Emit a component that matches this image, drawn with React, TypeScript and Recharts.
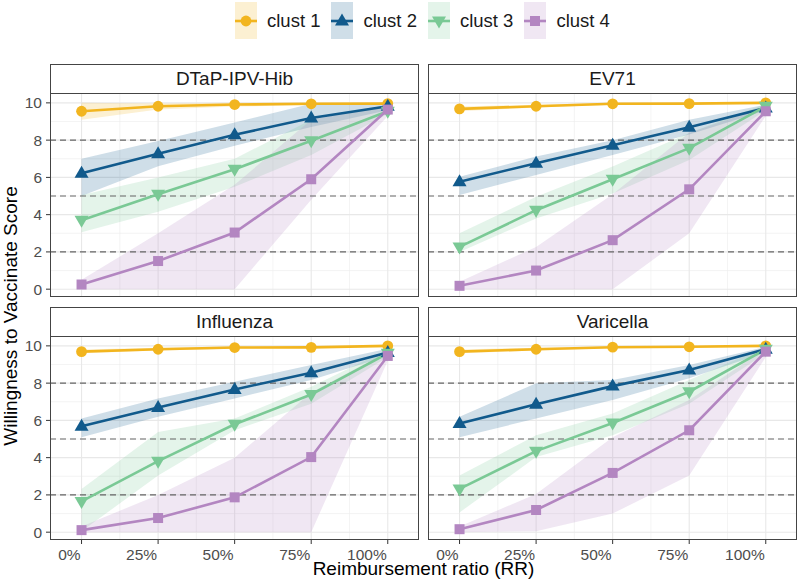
import React from "react";
import { ComposedChart, Area, Line, XAxis, YAxis, CartesianGrid, ReferenceLine } from "recharts";

const rr = [0, 0.25, 0.5, 0.75, 1];
const clusters = ["clust 1", "clust 2", "clust 3", "clust 4"];
const colors = ["#F2B51F", "#115A8C", "#7AC995", "#B386C1"];
const shapes = ["circle", "triangle", "triangleDown", "square"];

const xTicks = [0, 0.25, 0.5, 0.75, 1];
const xMinor = [0.125, 0.375, 0.625, 0.875];
const yTicks = [0, 2, 4, 6, 8, 10];
const yMinor = [1, 3, 5, 7, 9];
const cutoffs = [2, 5, 8];

// one row per cluster, one value per RR level
const dtapMean = [
  [9.55, 9.82, 9.91, 9.95, 9.96],
  [6.22, 7.27, 8.29, 9.19, 9.82],
  [3.7, 5.1, 6.44, 7.97, 9.55],
  [0.25, 1.51, 3.04, 5.9, 9.64],
];
const dtapLow = [
  [9.1, 9.65, 9.8, 9.88, 9.92],
  [5.0, 6.6, 7.7, 8.7, 9.6],
  [3.05, 4.15, 5.5, 7.2, 9.4],
  [0.0, 0.0, 0.0, 4.8, 9.3],
];
const dtapHigh = [
  [10.0, 9.97, 10.0, 10.0, 10.0],
  [7.0, 7.95, 8.95, 9.95, 10.0],
  [5.05, 6.0, 7.0, 9.1, 9.8],
  [0.5, 3.0, 5.6, 9.1, 9.9],
];

const ev71Mean = [
  [9.68, 9.82, 9.95, 9.96, 10.0],
  [5.77, 6.76, 7.72, 8.69, 9.73],
  [2.27, 4.24, 5.9, 7.57, 9.82],
  [0.18, 1.0, 2.63, 5.36, 9.55],
];
const ev71Low = [
  [9.55, 9.75, 9.9, 9.92, 9.97],
  [5.05, 6.13, 7.2, 8.3, 9.6],
  [2.0, 3.8, 5.14, 6.94, 9.6],
  [0.0, 0.0, 0.0, 3.0, 9.3],
];
const ev71High = [
  [9.8, 9.9, 10.0, 10.0, 10.0],
  [6.04, 7.12, 8.0, 9.1, 9.9],
  [3.0, 4.96, 6.58, 8.38, 9.95],
  [0.4, 2.27, 5.1, 8.4, 9.8],
];

const fluMean = [
  [9.69, 9.82, 9.91, 9.92, 10.0],
  [5.68, 6.69, 7.66, 8.56, 9.64],
  [1.65, 3.81, 5.79, 7.39, 9.6],
  [0.11, 0.76, 1.87, 4.03, 9.46],
];
const fluLow = [
  [9.6, 9.75, 9.85, 9.87, 9.97],
  [5.1, 6.19, 7.18, 8.17, 9.45],
  [0.05, 3.04, 5.47, 6.9, 9.4],
  [0.0, 0.0, 0.0, 0.0, 9.2],
];
const fluHigh = [
  [9.8, 9.9, 9.97, 9.98, 10.0],
  [6.1, 7.18, 8.08, 8.97, 9.85],
  [2.32, 5.38, 6.1, 7.8, 9.8],
  [0.3, 2.0, 4.0, 7.5, 9.7],
];

const varMean = [
  [9.69, 9.82, 9.93, 9.95, 10.0],
  [5.83, 6.87, 7.84, 8.71, 9.82],
  [2.32, 4.35, 5.86, 7.54, 9.82],
  [0.16, 1.19, 3.18, 5.47, 9.69],
];
const varLow = [
  [9.6, 9.75, 9.88, 9.9, 9.97],
  [5.1, 6.1, 7.09, 8.26, 9.65],
  [1.06, 4.03, 5.2, 6.9, 9.6],
  [0.0, 0.05, 1.0, 3.04, 9.4],
];
const varHigh = [
  [9.8, 9.9, 9.97, 9.99, 10.0],
  [6.19, 8.0, 8.17, 8.97, 9.95],
  [3.04, 5.2, 6.37, 8.17, 9.95],
  [0.3, 2.05, 5.1, 7.1, 9.85],
];

const FONT = '"Liberation Sans", Arial, sans-serif';
const PW = 369;
const PH = 204;
const STRIP = 29;

function Marker({ shape, cx, cy, color }: { shape: string; cx: number; cy: number; color: string }) {
  if (cx == null || cy == null) return null;
  if (shape === "circle") return <circle cx={cx} cy={cy} r={5.4} fill={color} />;
  if (shape === "square") return <rect x={cx - 5} y={cy - 5} width={10} height={10} fill={color} />;
  if (shape === "triangle")
    return <polygon points={`${cx},${cy - 7.5} ${cx - 7},${cy + 4.5} ${cx + 7},${cy + 4.5}`} fill={color} />;
  return <polygon points={`${cx},${cy + 7.5} ${cx - 7},${cy - 4.5} ${cx + 7},${cy - 4.5}`} fill={color} />;
}

function XTick({ x, y, payload }: any) {
  return (
    <text x={x - 1} y={y + 14} textAnchor="end" fill="#4d4d4d" fontSize={15.5} fontFamily={FONT}>
      {`${Math.round(payload.value * 100)}%`}
    </text>
  );
}

function YTick({ x, y, payload }: any) {
  return (
    <text x={x} y={y} textAnchor="end" dominantBaseline="central" fill="#4d4d4d" fontSize={15.5} fontFamily={FONT}>
      {payload.value}
    </text>
  );
}

type PanelProps = {
  title: string;
  mean: number[][];
  low: number[][];
  high: number[][];
  left: number;
  top: number;
  showX: boolean;
  showY: boolean;
};

function Panel({ title, mean, low, high, left, top, showX, showY }: PanelProps) {
  const data = rr.map((x, i) => {
    const row: any = { rr: x };
    clusters.forEach((_, k) => {
      row[`m${k}`] = mean[k][i];
      row[`r${k}`] = [low[k][i], high[k][i]];
    });
    return row;
  });
  const yW = showY ? 50 : 0;
  const xH = showX ? 40 : 0;

  return (
    <>
      <div
        style={{
          position: "absolute",
          left,
          top: top - STRIP,
          width: PW,
          height: STRIP + 1,
          boxSizing: "border-box",
          border: "1px solid #444",
          display: "flex",
          alignItems: "center",
          justifyContent: "center",
          fontFamily: FONT,
          fontSize: 19,
          color: "#1a1a1a",
          background: "#fff",
        }}
      >
        {title}
      </div>
      <div style={{ position: "absolute", left: left - yW, top }}>
        <ComposedChart width={PW + yW} height={PH + xH} data={data} margin={{ top: 0, right: 0, bottom: 0, left: 0 }}>
          <CartesianGrid stroke="#ececec" strokeWidth={0.6} horizontalValues={yMinor} verticalValues={xMinor} />
          <CartesianGrid stroke="#e8e8e8" strokeWidth={1.1} horizontalValues={yTicks} verticalValues={xTicks} />
          <XAxis
            dataKey="rr"
            type="number"
            domain={[-0.103, 1.102]}
            ticks={xTicks}
            interval={0}
            allowDataOverflow
            hide={!showX}
            height={xH}
            axisLine={false}
            tickLine={{ stroke: "#333" }}
            tickSize={4}
            tick={<XTick />}
          />
          <YAxis
            type="number"
            domain={[-0.42, 10.53]}
            ticks={yTicks}
            interval={0}
            allowDataOverflow
            hide={!showY}
            width={yW}
            axisLine={false}
            tickLine={{ stroke: "#333" }}
            tickSize={4}
            tickMargin={4}
            tick={<YTick />}
          />
          {clusters.map((c, k) => (
            <Area
              key={`ribbon-${c}`}
              type="linear"
              dataKey={`r${k}`}
              fill={colors[k]}
              fillOpacity={0.2}
              stroke="none"
              activeDot={false}
              isAnimationActive={false}
            />
          ))}
          {cutoffs.map((v) => (
            <ReferenceLine key={`cut-${v}`} y={v} stroke="#666" strokeWidth={1.1} strokeDasharray="6 4" />
          ))}
          {clusters.map((c, k) => (
            <Line
              key={`line-${c}`}
              type="linear"
              dataKey={`m${k}`}
              stroke={colors[k]}
              strokeWidth={2.6}
              dot={false}
              activeDot={false}
              isAnimationActive={false}
            />
          ))}
          {clusters.map((c, k) => (
            <Line
              key={`pts-${c}`}
              type="linear"
              dataKey={`m${k}`}
              stroke="none"
              activeDot={false}
              isAnimationActive={false}
              dot={(p: any) => (
                <Marker key={`pt-${k}-${p.index}`} shape={shapes[k]} cx={p.cx} cy={p.cy} color={colors[k]} />
              )}
            />
          ))}
        </ComposedChart>
      </div>
      <div
        style={{
          position: "absolute",
          left,
          top,
          width: PW,
          height: PH,
          boxSizing: "border-box",
          border: "1px solid #444",
          pointerEvents: "none",
        }}
      />
    </>
  );
}

function LegendKey({ k }: { k: number }) {
  return (
    <svg width={22} height={37} style={{ display: "block" }}>
      <rect x={0} y={0} width={22} height={37} fill={colors[k]} fillOpacity={0.2} />
      <line x1={0} x2={22} y1={19} y2={19} stroke={colors[k]} strokeWidth={2.6} />
      <Marker shape={shapes[k]} cx={11} cy={19} color={colors[k]} />
    </svg>
  );
}

export default function App() {
  return (
    <div
      style={{
        position: "absolute",
        left: 0,
        top: 0,
        width: 800,
        height: 588,
        background: "#fff",
        overflow: "hidden",
        fontFamily: FONT,
      }}
    >
      <div style={{ position: "absolute", left: 235, top: 2, display: "flex", alignItems: "center" }}>
        {clusters.map((c, k) => (
          <div key={c} style={{ display: "flex", alignItems: "center", marginRight: 11 }}>
            <LegendKey k={k} />
            <span style={{ marginLeft: 10, fontSize: 18.5, color: "#1a1a1a" }}>{c}</span>
          </div>
        ))}
      </div>

      <Panel title="DTaP-IPV-Hib" mean={dtapMean} low={dtapLow} high={dtapHigh} left={50} top={93} showX={false} showY />
      <Panel title="EV71" mean={ev71Mean} low={ev71Low} high={ev71High} left={428} top={93} showX={false} showY={false} />
      <Panel title="Influenza" mean={fluMean} low={fluLow} high={fluHigh} left={50} top={336} showX showY />
      <Panel title="Varicella" mean={varMean} low={varLow} high={varHigh} left={428} top={336} showX showY={false} />

      <div
        style={{
          position: "absolute",
          left: 11,
          top: 316,
          transform: "translate(-50%, -50%) rotate(-90deg)",
          whiteSpace: "nowrap",
          fontSize: 19,
          color: "#000",
        }}
      >
        Willingness to Vaccinate Score
      </div>
      <div
        style={{
          position: "absolute",
          left: 423.5,
          top: 569,
          transform: "translate(-50%, -50%)",
          whiteSpace: "nowrap",
          fontSize: 19,
          color: "#000",
        }}
      >
        Reimbursement ratio (RR)
      </div>
    </div>
  );
}
